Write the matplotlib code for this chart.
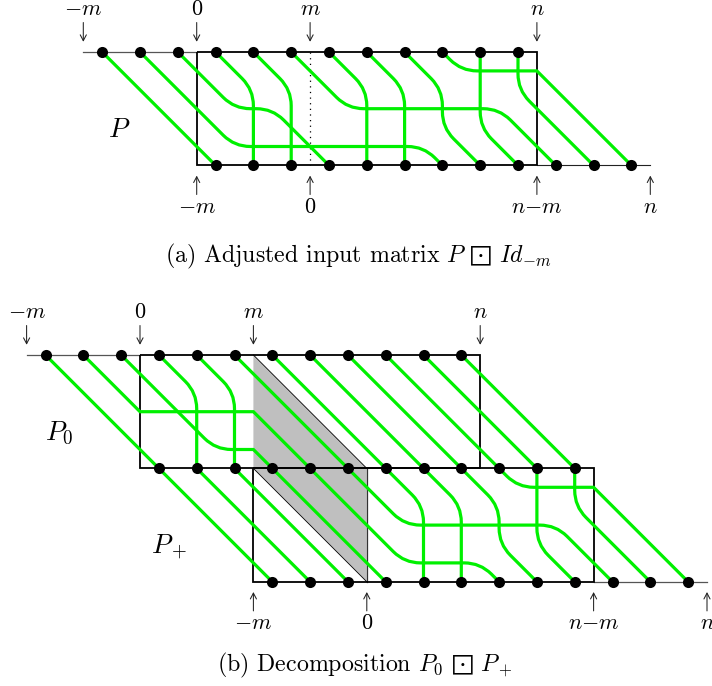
import matplotlib
matplotlib.use("Agg")
import matplotlib.pyplot as plt
from matplotlib.path import Path
from matplotlib.patches import PathPatch, Polygon
import numpy as np

plt.rcParams['font.family'] = ['cmr10', 'DejaVu Sans']
plt.rcParams['mathtext.fontset'] = 'cm'
plt.rcParams['axes.formatter.use_mathtext'] = True

W, H, UNIT = 712, 686, 37.8
GREEN = '#00f000'

# Panel (a): strands as way-points (x, row) on the grid
P_strands = [
    [(-2.5, 0), (0.5, 3)],
    [(-1.5, 0), (1, 2.5), (6, 2.5), (6.5, 3)],
    [(-0.5, 0), (1, 1.5), (2, 1.5), (3.5, 3)],
    [(0.5, 0), (1.5, 1), (1.5, 3)],
    [(1.5, 0), (2.5, 1), (2.5, 3)],
    [(2.5, 0), (4, 1.5), (8, 1.5), (9.5, 3)],
    [(3.5, 0), (4.5, 1), (4.5, 3)],
    [(4.5, 0), (5.5, 1), (5.5, 3)],
    [(5.5, 0), (6.5, 1), (6.5, 2), (7.5, 3)],
    [(6.5, 0), (7, 0.5), (9, 0.5), (11.5, 3)],
    [(7.5, 0), (7.5, 2), (8.5, 3)],
    [(8.5, 0), (8.5, 1), (10.5, 3)],
]
# Panel (b): first factor
P0_strands = [
    [(-2.5, 0), (0.5, 3)],
    [(-1.5, 0), (0, 1.5), (3, 1.5), (4.5, 3)],
    [(-0.5, 0), (2, 2.5), (3, 2.5), (3.5, 3)],
    [(0.5, 0), (1.5, 1), (1.5, 3)],
    [(1.5, 0), (2.5, 1), (2.5, 3)],
    [(2.5, 0), (5.5, 3)],
    [(3.5, 0), (6.5, 3)],
    [(4.5, 0), (7.5, 3)],
    [(5.5, 0), (8.5, 3)],
    [(6.5, 0), (9.5, 3)],
    [(7.5, 0), (10.5, 3)],
    [(8.5, 0), (11.5, 3)],
]
# Panel (b): second factor
Pplus_strands = [
    [(0.5, 3), (3.5, 6)],
    [(1.5, 3), (4.5, 6)],
    [(2.5, 3), (5.5, 6)],
    [(3.5, 3), (6.5, 6)],
    [(4.5, 3), (7, 5.5), (9, 5.5), (9.5, 6)],
    [(5.5, 3), (7, 4.5), (11, 4.5), (12.5, 6)],
    [(6.5, 3), (7.5, 4), (7.5, 6)],
    [(7.5, 3), (8.5, 4), (8.5, 6)],
    [(8.5, 3), (9.5, 4), (9.5, 5), (10.5, 6)],
    [(9.5, 3), (10, 3.5), (12, 3.5), (14.5, 6)],
    [(10.5, 3), (10.5, 5), (11.5, 6)],
    [(11.5, 3), (11.5, 4), (13.5, 6)],
]
# dot positions per row
a_top_dots = [-2.5, -1.5, -0.5, 0.5, 1.5, 2.5, 3.5, 4.5, 5.5, 6.5, 7.5, 8.5]
a_bot_dots = [0.5, 1.5, 2.5, 3.5, 4.5, 5.5, 6.5, 7.5, 8.5, 9.5, 10.5, 11.5]
b_top_dots = a_top_dots
b_mid_dots = a_bot_dots
b_bot_dots = [3.5, 4.5, 5.5, 6.5, 7.5, 8.5, 9.5, 10.5, 11.5, 12.5, 13.5, 14.5]
# tick positions
top_labels = ['$-m$', '$0$', '$m$', '$n$']
top_pos = [-3, 0, 3, 9]
bot_labels = ['$-m$', '$0$', '$n{-}m$', '$n$']
bot_pos_a = [0, 3, 9, 12]
bot_pos_b = [3, 6, 12, 15]
gray_region = [(3, 0), (6, 3), (6, 6), (3, 3)]
cap_a = r'(a) Adjusted input matrix $P\,\boxdot\,Id_{-m}$'
cap_b = r'(b) Decomposition $P_0\,\boxdot\,P_+$'


def make_axes(ox, oy):
    ax = fig.add_axes([0, 0, 1, 1])
    ax.set_xlim(-ox / UNIT, (W - ox) / UNIT)
    ax.set_ylim((H - oy) / UNIT, -oy / UNIT)
    ax.axis('off')
    ax.patch.set_alpha(0)
    return ax


def strand(ax, pts, sharp_x=(), r=0.42):
    verts = [pts[0]]
    codes = [Path.MOVETO]
    for i in range(1, len(pts) - 1):
        p = np.array(pts[i], float)
        if pts[i][0] in sharp_x:
            verts.append(tuple(p))
            codes.append(Path.LINETO)
            continue
        a, b = np.array(pts[i - 1], float), np.array(pts[i + 1], float)
        la, lb = np.linalg.norm(a - p), np.linalg.norm(b - p)
        s = p + (a - p) / la * min(r, la)
        e = p + (b - p) / lb * min(r, lb)
        verts += [tuple(s), tuple(p), tuple(e)]
        codes += [Path.LINETO, Path.CURVE3, Path.CURVE3]
    verts.append(pts[-1])
    codes.append(Path.LINETO)
    ax.add_patch(PathPatch(Path(verts, codes), fill=False, ec=GREEN, lw=2.3,
                           capstyle='butt', joinstyle='miter', zorder=4))


def rect(ax, x0, x1, y0, y1):
    ax.plot([x0, x1, x1, x0, x0], [y0, y0, y1, y1, y0], color='k', lw=1.3,
            solid_joinstyle='miter', solid_capstyle='butt', zorder=3)


def dots(ax, xs, y):
    ax.plot(xs, [y] * len(xs), 'o', color='k', ms=8.0, mew=0, zorder=6)


def ticks(ax, labels, pos, y, down):
    props = dict(arrowstyle='->,head_length=0.42,head_width=0.22',
                 color='#222222', lw=0.75, shrinkA=0, shrinkB=0)
    for lab, x in zip(labels, pos):
        if down:
            ax.annotate('', xy=(x, y - 0.27), xytext=(x, y - 0.78), arrowprops=props)
            ax.text(x, y - 1.14, lab, ha='center', va='center', fontsize=16)
        else:
            ax.annotate('', xy=(x, y + 0.27), xytext=(x, y + 0.77), arrowprops=props)
            ax.text(x, y + 1.1, lab, ha='center', va='center', fontsize=16)


fig = plt.figure(figsize=(W / 100, H / 100), dpi=100, facecolor='white')

# ---- panel (a)
ax = make_axes(196.7, 52)
ax.plot([-3, 0], [0, 0], color='#555555', lw=0.9, zorder=2)
ax.plot([9, 12], [3, 3], color='#222222', lw=0.8, zorder=2)
ax.plot([3, 3], [0, 3], color='k', lw=0.9, ls=(0, (1, 3.5)), zorder=2)
rect(ax, 0, 9, 0, 3)
for s in P_strands:
    strand(ax, s, sharp_x=(0, 9))
dots(ax, a_top_dots, 0)
dots(ax, a_bot_dots, 3)
ticks(ax, top_labels, top_pos, 0, True)
ticks(ax, bot_labels, bot_pos_a, 3, False)
ax.text(-2.05, 2.07, '$P$', fontsize=19.5, ha='center', va='center')
ax.text(4.28, 5.42, cap_a, fontsize=17.2, ha='center', va='center')

# ---- panel (b)
ax = make_axes(140, 355)
ax.add_patch(Polygon(gray_region, closed=True, fc='#bfbfbf', ec='none', zorder=1))
xs, ys = zip(*gray_region)
ax.plot([xs[0], xs[1]], [ys[0], ys[1]], color='k', lw=0.6, zorder=2)
ax.plot([xs[2], xs[3]], [ys[2], ys[3]], color='k', lw=0.6, zorder=2)
ax.plot([6, 6], [3, 6], color='#333333', lw=0.9, zorder=2)
ax.plot([-3, 0], [0, 0], color='#555555', lw=0.9, zorder=2)
ax.plot([12, 15], [6, 6], color='#555555', lw=0.9, zorder=2)
rect(ax, 0, 9, 0, 3)
rect(ax, 3, 12, 3, 6)
for s in P0_strands:
    strand(ax, s, sharp_x=(0, 3))
for s in Pplus_strands:
    strand(ax, s, sharp_x=(12,))
dots(ax, b_top_dots, 0)
dots(ax, b_mid_dots, 3)
dots(ax, b_bot_dots, 6)
ticks(ax, top_labels, top_pos, 0, True)
ticks(ax, bot_labels, bot_pos_b, 6, False)
ax.text(-2.15, 2.05, '$P_0$', fontsize=19.5, ha='center', va='center')
ax.text(0.77, 5.08, '$P_+$', fontsize=19.5, ha='center', va='center')
ax.text(5.95, 8.2, cap_b, fontsize=17.2, ha='center', va='center')

fig.savefig('out.png', dpi=100)
